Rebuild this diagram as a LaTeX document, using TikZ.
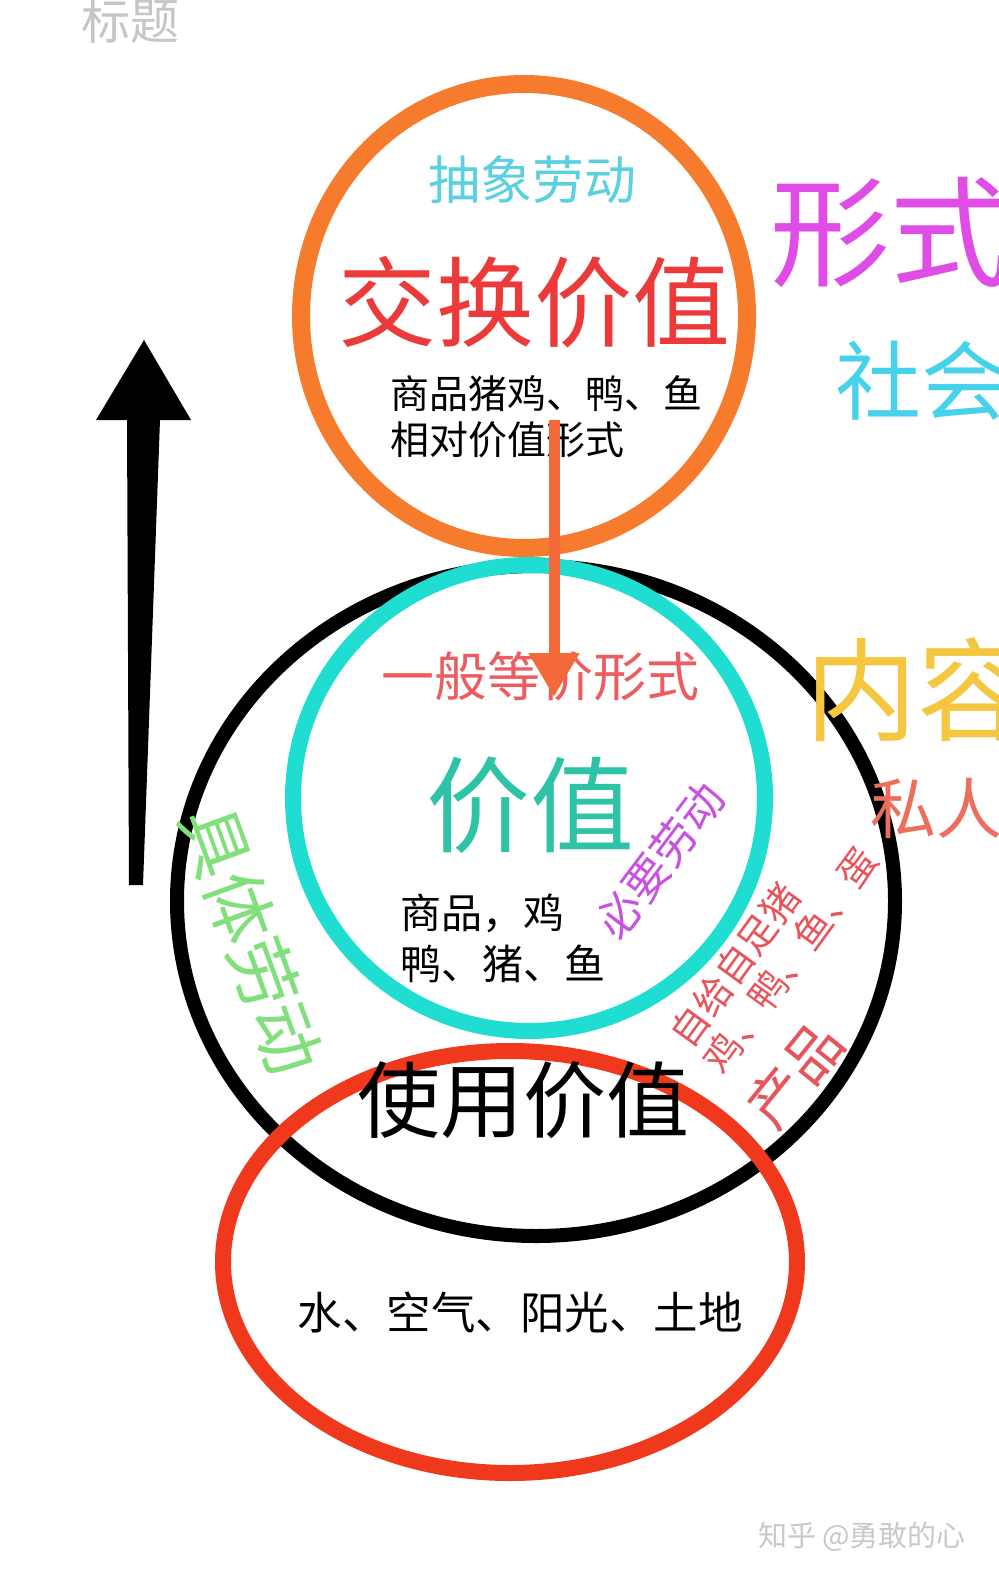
\documentclass[tikz,border=0pt]{standalone}
\usepackage{fontspec}
\setmainfont{Noto Sans CJK SC}
\usetikzlibrary{arrows.meta}

\definecolor{ringorange}{HTML}{F77B2C}
\definecolor{ringteal}{HTML}{20DDD2}
\definecolor{ringred}{HTML}{F0381C}
\definecolor{arroworange}{HTML}{F4693A}
\definecolor{titlegray}{HTML}{C6C6C6}
\definecolor{abstractcyan}{HTML}{5BD0E0}
\definecolor{exchred}{HTML}{EC3A3A}
\definecolor{formmagenta}{HTML}{E04CE6}
\definecolor{socialcyan}{HTML}{47D2EC}
\definecolor{contentyellow}{HTML}{F5C640}
\definecolor{privatered}{HTML}{EC6F5E}
\definecolor{genred}{HTML}{EC5C60}
\definecolor{valueteal}{HTML}{2EC2A6}
\definecolor{needpurple}{HTML}{C853E0}
\definecolor{prodred}{HTML}{E6555C}
\definecolor{concretegreen}{HTML}{82E07C}
\definecolor{markgray}{HTML}{C8C8C8}

\begin{document}
\begin{tikzpicture}[x=1pt, y=-1pt,
               ring_style/.style={draw=#1, line width=16pt},
               label_style/.style={inner sep=0pt, font=\fontsize{#1}{#1}\selectfont},
               arrow_style/.style={draw=arroworange, line width=11pt, -{Triangle[width=48pt,length=44pt]}}]
                \useasboundingbox (0,0) rectangle (998,1578);

                \draw[ring_style=black, line width=14pt] (536,901) ellipse [x radius=359, y radius=335];
                \draw[ring_style=ringteal] (529,798) ellipse [x radius=236, y radius=233];
                \draw[ring_style=ringorange, line width=18pt] (524,316) ellipse [x radius=223, y radius=232];
                \draw[ring_style=ringred] (510,1262) ellipse [x radius=287, y radius=211];

                \node[label_style=49, text=titlegray] (title) at (130,21) {标题};
                \node[label_style=52, text=abstractcyan] (abstract) at (532,180) {抽象劳动};
                \node[label_style=98, text=exchred] (exchange) at (534,302) {交换价值};
                \node[label_style=39, anchor=west] (goods_a) at (390,394) {商品猪鸡、鸭、鱼};
                \node[label_style=39, anchor=west] (relform) at (390,440) {相对价值形式};
                \node[label_style=120, text=formmagenta, anchor=west] (form) at (770,233) {形式};
                \node[label_style=86, text=socialcyan, anchor=west] (social) at (835,381) {社会};
                \node[label_style=112, text=contentyellow, anchor=west] (content) at (805,690) {内容};
                \node[label_style=66, text=privatered, anchor=west] (private) at (870,808) {私人};
                \node[label_style=53, text=genred] (general) at (540,676) {一般等价形式};
                \node[label_style=104, text=valueteal] (value) at (530,805) {价值};
                \node[label_style=41, anchor=west] (goods_b) at (400,913) {商品，鸡};
                \node[label_style=41, anchor=west] (goods_c) at (400,964) {鸭、猪、鱼};
                \node[label_style=45, text=needpurple, rotate=53] (necessary) at (660,860) {必要劳动};
                \node[label_style=38, text=prodred, rotate=54, anchor=west] (selfsuff) at (679,1042) {自给自足猪};
                \node[label_style=38, text=prodred, rotate=54, anchor=west] (poultry) at (712,1068) {鸡、鸭、鱼、蛋};
                \node[label_style=57, text=prodred, rotate=51] (product) at (795,1075) {产品};
                \node[label_style=70, text=concretegreen, rotate=-70] (concrete) at (252,940) {具体劳动};
                \node[label_style=83] (usevalue) at (523,1100) {使用价值};
                \node[label_style=44.5] (nature) at (520,1312) {水、空气、阳光、土地};
                \node[label_style=29, text=markgray] (mark) at (862,1537) {知乎 @勇敢的心};

                \coordinate (up_tail_l) at (129,885);
                \coordinate (up_tail_r) at (143,885);
                \coordinate (up_neck_r) at (160,420);
                \coordinate (up_head_r) at (191,420);
                \coordinate (up_tip) at (144,340);
                \coordinate (up_head_l) at (96,420);
                \coordinate (up_neck_l) at (127,420);
                \fill[black] (up_tail_l) -- (up_tail_r) -- (up_neck_r) -- (up_head_r) -- (up_tip) -- (up_head_l) -- (up_neck_l) -- cycle;

                \coordinate (down_start) at (554,420);
                \coordinate (down_end) at (554,697);
                \draw[arrow_style] (down_start) -- (down_end);
            \end{tikzpicture}
\end{document}
